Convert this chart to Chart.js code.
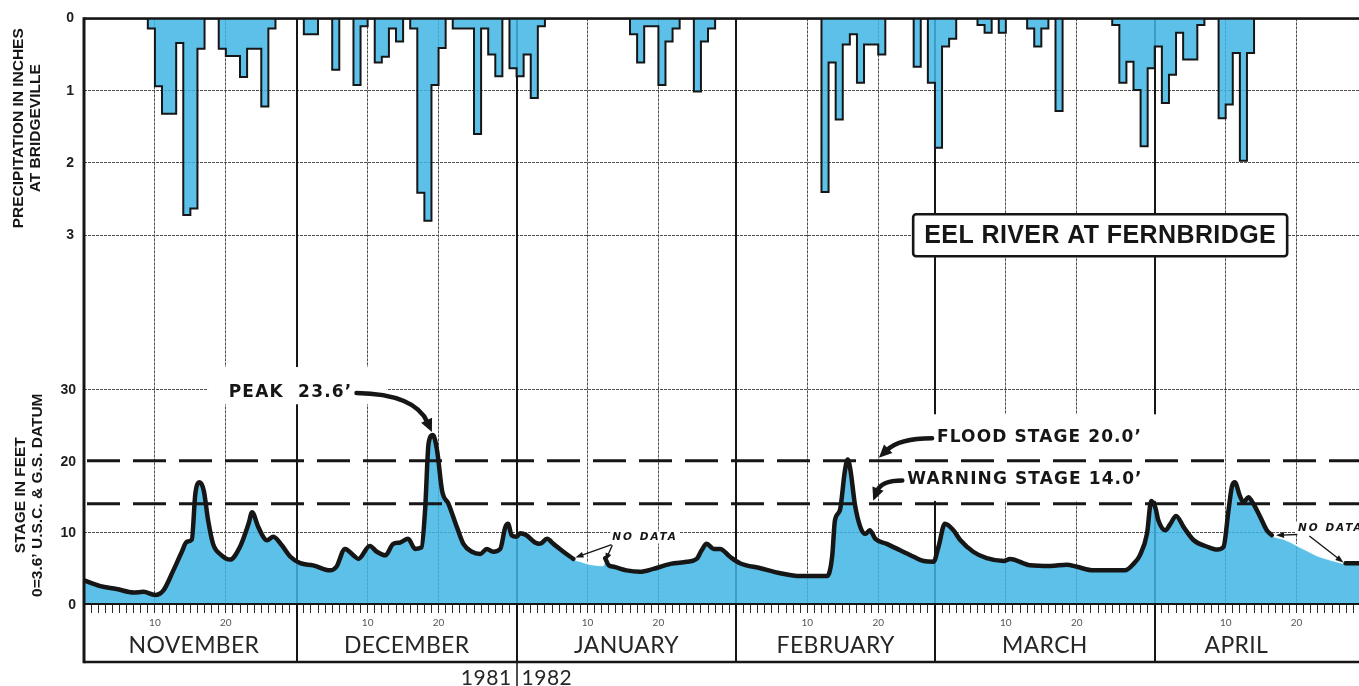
<!DOCTYPE html>
<html lang="en">
<head>
<meta charset="utf-8">
<title>Eel River at Fernbridge, 1981–1982</title>
<script src="https://cdn.jsdelivr.net/npm/chart.js@4.4.1/dist/chart.umd.min.js"></script>
<style>
  html, body { margin: 0; padding: 0; background: #ffffff; overflow: hidden; }
  #frame { width: 1359px; height: 686px; }
  canvas { display: block; }
</style>
</head>
<body>
<div id="frame"><canvas id="hydrograph" width="1359" height="686"></canvas></div>
<script>
// ---- data: days are counted from 1 November 1981 (day 0) ----
const monthNames = ['NOVEMBER', 'DECEMBER', 'JANUARY', 'FEBRUARY', 'MARCH', 'APRIL'];
const monthStartDay = [0, 30, 61, 92, 120, 151];
const monthLabelDay = [15.5, 45.5, 76.5, 106, 135.5, 162.5];
const dayMarks = [10, 20];
const yearLabels = ['1981', '1982'];
const precipTicks = [0, 1, 2, 3];
const stageTicks = [0, 10, 20, 30];
const floodStage = 20.0;
const warningStage = 14.0;

// daily precipitation at Bridgeville (inches)
const rainDay = [9, 10, 11, 12, 13, 14, 15, 16, 19, 20, 21, 22, 23, 24, 25, 26,
  31, 32, 35, 38, 39, 41, 42, 43, 44, 46, 47, 48, 49, 50, 52, 53, 54, 55, 56, 57, 58, 60,
  61, 62, 63, 64, 77, 78, 79, 80, 81, 82, 83, 86, 87, 88,
  104, 105, 106, 107, 108, 109, 110, 111, 112, 117, 119,
  120, 121, 122, 126, 127, 129, 133, 134, 135, 137, 145, 146, 147, 148, 149, 150,
  151, 152, 153, 154, 155, 156, 157, 160, 161, 162, 163, 164];
const rainInches = [0.14, 0.94, 1.32, 1.32, 0.34, 2.72, 2.63, 0.42, 0.42, 0.52, 0.52, 0.81, 0.42, 0.42, 1.22, 0.14,
  0.22, 0.22, 0.71, 0.92, 0.11, 0.61, 0.53, 0.14, 0.32, 0.14, 2.41, 2.80, 0.92, 0.41, 0.14, 0.14, 0.14, 1.60, 0.14, 0.50, 0.80, 0.69,
  0.80, 0.50, 1.10, 0.11, 0.22, 0.61, 0.11, 0.11, 0.92, 0.32, 0.14, 1.01, 0.32, 0.14,
  2.40, 0.61, 1.40, 0.36, 0.22, 0.89, 0.36, 0.36, 0.50, 0.67, 0.89,
  1.79, 0.39, 0.28, 0.09, 0.20, 0.20, 0.14, 0.39, 0.14, 1.28, 0.09, 0.89, 0.60, 0.99, 1.77, 0.69,
  0.39, 1.17, 0.78, 0.20, 0.57, 0.57, 0.09, 1.38, 1.19, 0.48, 1.97, 0.48];

// river stage at Fernbridge (feet)
const stageDay = [0, 2.3, 4.6, 7.0, 8.4, 10.0, 11.2, 12.6, 13.8, 14.5, 15.2, 15.7, 16.3, 16.9, 17.5, 18.2, 19.4, 20.6,
  22.0, 23.2, 23.7, 24.6, 25.8, 26.7, 27.9, 29.1, 30.5, 32.3, 34.7, 35.6, 36.8, 38.0, 38.7, 40.3, 41.3, 42.5,
  43.6, 44.6, 45.7, 46.7, 47.6, 48.1, 48.6, 49.2, 49.8, 50.5, 51.4, 52.6, 53.5, 54.7, 55.9, 56.8, 57.7, 58.7,
  59.4, 59.8, 60.3, 61.0, 61.5, 62.4, 63.6, 64.3, 65.3, 66.2, 67.6, 69.0, 70.0, 71.4, 73.2, 73.5, 74.0, 74.7,
  76.5, 78.4, 80.3, 82.7, 85.0, 86.4, 87.1, 87.8, 88.8, 89.7, 91.1, 92.5, 95.4, 98.2, 101.0, 104.8, 105.5,
  105.9, 106.6, 107.3, 107.7, 108.1, 108.7, 109.5, 110.2, 110.8, 111.6, 113.2, 115.1, 117.0, 118.4, 119.8,
  120.5, 121.4, 122.6, 123.6, 125.4, 127.3, 129.7, 130.6, 133.4, 136.3, 138.6, 140.0, 142.4, 144.3, 146.8,
  148.0, 148.9, 149.9, 150.5, 151.1, 151.5, 152.5, 153.2, 154.0, 155.1, 156.5, 158.4, 159.8, 160.7, 161.4,
  161.9, 162.3, 163.0, 163.5, 164.2, 164.9, 165.9, 166.8, 167.5, 169.2, 171.5, 173.9, 176.2, 177.9, 181];
const stageFeet = [3.3, 2.5, 2.1, 1.6, 1.7, 1.25, 1.9, 4.7, 7.3, 8.7, 9.0, 15.4, 17.0, 15.8, 11.7, 8.4, 6.8, 6.2,
  8.0, 11.2, 12.8, 10.7, 8.9, 9.4, 8.2, 6.6, 5.7, 5.4, 4.7, 5.2, 7.7, 6.8, 6.3, 8.1, 7.3, 6.8,
  8.4, 8.6, 9.1, 7.7, 7.9, 13.1, 22.5, 23.6, 21.4, 15.8, 14.0, 10.7, 8.4, 7.3, 7.0, 7.7, 7.3, 7.7,
  10.7, 11.2, 9.6, 9.4, 9.9, 9.6, 8.6, 8.4, 9.1, 8.4, 7.3, 6.3, 6.0, 5.6, 5.4, 6.4, 5.4, 5.2,
  4.7, 4.5, 4.9, 5.6, 5.9, 6.3, 7.5, 8.4, 7.7, 7.7, 6.6, 5.7, 5.0, 4.3, 3.9, 3.9, 6.6,
  11.7, 13.1, 18.6, 20.2, 18.6, 14.0, 10.7, 9.8, 10.3, 9.1, 8.4, 7.5, 6.6, 6.0, 5.9,
  8.0, 11.2, 10.3, 8.9, 7.3, 6.4, 6.0, 6.3, 5.4, 5.3, 5.5, 5.2, 4.7, 4.7, 4.7,
  5.6, 6.8, 9.8, 14.4, 13.4, 11.7, 10.3, 11.2, 12.3, 10.7, 8.9, 8.0, 7.6, 8.0, 13.1,
  16.5, 17.0, 15.1, 14.2, 14.9, 14.0, 12.1, 10.3, 9.6, 9.1, 8.0, 6.8, 6.1, 5.7, 5.7];
// stretches where the gauge record is missing (stage estimated)
const noDataSpans = [[69.1, 73.4], [167.6, 177.8]];

// ---- axis ranges and styling ----
const DAY_MAX = 179.8;
const PRECIP_MAX = 8.1;
const STAGE_MAX = 81.8;
const BLUE = 'rgba(63,181,228,0.85)';
const INK = '#161616';
const GRID = '#4e4e4e';
const CLEAR = 'rgba(0,0,0,0)';
const SANS = '"Liberation Sans", Arial, sans-serif';
const WIDE = '"DejaVu Sans", Verdana, sans-serif';
const SOFT = 'Lato, "Open Sans", sans-serif';

// ---- series built from the arrays above ----
const rainByDay = new Map(rainDay.map((d, i) => [d, rainInches[i]]));
const rainSeries = [];
for (let d = 0; d <= 181; d++) rainSeries.push({ x: d, y: rainByDay.get(d) || 0 });
const inGap = d => noDataSpans.some(([a, b]) => d > a && d < b);
const stageArea = stageDay.map((d, i) => ({ x: d, y: stageFeet[i] }));
const stageTrace = stageDay.map((d, i) => ({ x: d, y: inGap(d) ? null : stageFeet[i] }));
const peakIndex = stageFeet.indexOf(Math.max(...stageFeet));

const monthOf = d => { let m = 0; monthStartDay.forEach((s, i) => { if (d >= s) m = i; }); return m; };
const dayOffset = d => d - monthStartDay[monthOf(d)];

function seg(ctx, x1, y1, x2, y2) {
  ctx.beginPath(); ctx.moveTo(x1, y1); ctx.lineTo(x2, y2); ctx.stroke();
}
function text(ctx, str, x, y, font, spacing, align, baseline) {
  ctx.font = font;
  ctx.letterSpacing = (spacing || 0) + 'px';
  ctx.textAlign = align || 'left';
  ctx.textBaseline = baseline || 'middle';
  ctx.fillText(str, x, y);
  const w = ctx.measureText(str).width;
  ctx.letterSpacing = '0px';
  return w;
}
function arrowHead(ctx, tx, ty, ang, len, half) {
  ctx.beginPath();
  ctx.moveTo(tx, ty);
  ctx.lineTo(tx - Math.cos(ang) * len + Math.sin(ang) * half, ty - Math.sin(ang) * len - Math.cos(ang) * half);
  ctx.lineTo(tx - Math.cos(ang) * len - Math.sin(ang) * half, ty - Math.sin(ang) * len + Math.cos(ang) * half);
  ctx.closePath();
  ctx.fill();
}
function curvedArrow(ctx, sx, sy, cx, cy, tx, ty, width, len, half) {
  const ang = Math.atan2(ty - cy, tx - cx);
  const ex = tx - Math.cos(ang) * len * 0.8, ey = ty - Math.sin(ang) * len * 0.8;
  ctx.lineWidth = width; ctx.lineCap = 'round';
  ctx.beginPath(); ctx.moveTo(sx, sy); ctx.quadraticCurveTo(cx, cy, ex, ey); ctx.stroke();
  ctx.lineCap = 'butt';
  arrowHead(ctx, tx, ty, ang, len, half);
}
function straightArrow(ctx, sx, sy, tx, ty, width, len, half) {
  const ang = Math.atan2(ty - sy, tx - sx);
  ctx.lineWidth = width;
  seg(ctx, sx, sy, tx - Math.cos(ang) * len * 0.7, ty - Math.sin(ang) * len * 0.7);
  arrowHead(ctx, tx, ty, ang, len, half);
}

const hydroPlugin = {
  id: 'hydroFrame',
  beforeDatasetsDraw(chart) {
    const { ctx, chartArea: a, scales: { x, ys } } = chart;
    const X = v => x.getPixelForValue(v), S = v => ys.getPixelForValue(v);
    ctx.save();
    // month boundaries through both panels
    ctx.strokeStyle = INK; ctx.lineWidth = 2;
    monthStartDay.slice(1).forEach(d => { const px = Math.round(X(d)); seg(ctx, px, a.top, px, a.bottom); });
    // clear panels behind the notes
    ctx.fillStyle = '#ffffff';
    ctx.fillRect(X(17.5), S(33.1), X(42.7) - X(17.5), S(27.9) - S(33.1));
    ctx.fillRect(X(115.1), S(26.5), X(152.2) - X(115.1), S(14.4) - S(26.5));
    ctx.restore();
  },
  afterDatasetsDraw(chart) {
    const { ctx, chartArea: a, scales: { x, ys, yp } } = chart;
    const X = v => x.getPixelForValue(v), S = v => ys.getPixelForValue(v), P = v => yp.getPixelForValue(v);
    const H = chart.height;
    const baseY = a.bottom + 58;
    ctx.save();
    ctx.strokeStyle = INK; ctx.fillStyle = INK;

    // flood and warning stage lines
    ctx.lineWidth = 3; ctx.setLineDash([33, 13]);
    [floodStage, warningStage].forEach(v => seg(ctx, a.left + 3, S(v), a.right, S(v)));
    ctx.setLineDash([]);

    // frame
    ctx.lineWidth = 2.5; seg(ctx, a.left, a.top, a.right, a.top);
    ctx.lineWidth = 2; seg(ctx, a.left, a.bottom, a.right, a.bottom);
    ctx.lineWidth = 2.5; seg(ctx, a.left, baseY, a.right, baseY);
    ctx.lineWidth = 3; seg(ctx, a.left, a.top - 1.2, a.left, baseY + 1.2);
    ctx.lineWidth = 2;
    monthStartDay.slice(1).forEach(d => { const px = Math.round(X(d)); seg(ctx, px, a.bottom, px, baseY); });
    ctx.lineWidth = 1.5;
    const yr = Math.round(X(monthStartDay[2]));
    seg(ctx, yr, baseY, yr, H);

    // peak note
    const peakX = X(stageDay[peakIndex]), peakY = S(stageFeet[peakIndex]);
    const pkText = 'PEAK  ' + stageFeet[peakIndex].toFixed(1) + '\u2019';
    const pkX = X(20.4), pkY = S(29.6);
    const pkW = text(ctx, pkText, pkX, pkY, 'bold 17px ' + WIDE, 1.2);
    curvedArrow(ctx, pkX + pkW + 4, pkY + 1, peakX - 18, pkY + 2, peakX - 1, peakY - 3, 4.5, 13, 6);

    // flood / warning notes
    const flX = X(120.3), flY = S(23.3);
    text(ctx, 'FLOOD STAGE ' + floodStage.toFixed(1) + '\u2019', flX, flY, 'bold 17px ' + WIDE, 1.1);
    const flTipX = X(112.1), flTipY = S(floodStage) - 3;
    curvedArrow(ctx, flX - 5, flY + 1, flTipX + 20, flY + 1, flTipX, flTipY, 4.5, 13, 6);
    const wnX = X(116.1), wnY = S(17.4);
    text(ctx, 'WARNING STAGE ' + warningStage.toFixed(1) + '\u2019', wnX, wnY, 'bold 17px ' + WIDE, 1.1);
    const wnTipX = X(111.3), wnTipY = S(warningStage) - 3;
    curvedArrow(ctx, wnX - 5, wnY + 1, wnTipX + 8, wnY + 1, wnTipX, wnTipY, 4.5, 13, 6);

    // missing-record notes
    const gapNote = (dx, fy) => {
      ctx.font = 'italic bold 10.5px ' + WIDE;
      ctx.letterSpacing = '2px';
      const w = ctx.measureText('NO DATA').width;
      ctx.letterSpacing = '0px';
      ctx.fillStyle = '#ffffff';
      ctx.fillRect(X(dx) - 2, S(fy) - 6, w + 4, 12);
      ctx.fillStyle = INK;
      text(ctx, 'NO DATA', X(dx), S(fy), 'italic bold 10.5px ' + WIDE, 2);
    };
    gapNote(74.5, 9.3);
    straightArrow(ctx, X(74.4), S(8.3), X(69.3), S(6.5), 1.4, 8, 3);
    straightArrow(ctx, X(74.5), S(8.2), X(73.5), S(6.0), 1.4, 8, 3);
    gapNote(171.2, 10.6);
    straightArrow(ctx, X(171.1), S(9.7), X(168.1), S(9.6), 1.4, 8, 3);
    straightArrow(ctx, X(172.8), S(9.5), X(177.6), S(5.8), 1.4, 8, 3);

    // title box
    const tcx = X(143.3), tcy = P(3.0), bw = 374, bh = 42;
    ctx.fillStyle = '#ffffff';
    ctx.beginPath(); ctx.roundRect(tcx - bw / 2, tcy - bh / 2, bw, bh, 3); ctx.fill();
    ctx.lineWidth = 2.6; ctx.strokeStyle = INK; ctx.stroke();
    ctx.fillStyle = INK;
    text(ctx, 'EEL RIVER AT FERNBRIDGE', tcx, tcy + 1, 'bold 25px ' + SANS, 0.4, 'center');
    ctx.restore();
  },
  afterDraw(chart) {
    const { ctx, chartArea: a, scales: { x, ys, yp } } = chart;
    const X = v => x.getPixelForValue(v), S = v => ys.getPixelForValue(v), P = v => yp.getPixelForValue(v);
    ctx.save();
    ctx.fillStyle = '#1c1c1c';
    // stage tick labels
    stageTicks.forEach(v => text(ctx, String(v), a.left - 8, S(v) + 1, 'bold 14px ' + SANS, 0, 'right'));
    ctx.fillStyle = INK;
    // vertical axis titles
    const vtitle = (lines, cx, cy, gap) => {
      ctx.save(); ctx.translate(cx, cy); ctx.rotate(-Math.PI / 2);
      lines.forEach((t, i) => text(ctx, t, 0, (i - (lines.length - 1) / 2) * gap, 'bold 15.5px ' + SANS, 0, 'center'));
      ctx.restore();
    };
    vtitle(['PRECIPITATION IN INCHES', 'AT BRIDGEVILLE'], 27.5, P(1.52), 17.4);
    vtitle(['STAGE IN FEET', '0=3.6\u2019 U.S.C. & G.S. DATUM'], 29, S(15.2), 17.4);
    // month names and years
    ctx.fillStyle = '#262626';
    monthNames.forEach((m, i) => text(ctx, m, X(monthLabelDay[i]), a.bottom + 42, '23px ' + SOFT, 0.3, 'center'));
    const yr = X(monthStartDay[2]);
    text(ctx, yearLabels[0], yr - 5, a.bottom + 74, '21px ' + SOFT, 0.5, 'right');
    text(ctx, yearLabels[1], yr + 5, a.bottom + 74, '21px ' + SOFT, 0.5, 'left');
    ctx.restore();
  }
};

const tickFont = { family: SANS, size: 14, weight: 'bold' };

new Chart(document.getElementById('hydrograph'), {
  type: 'line',
  data: {
    datasets: [
      { label: 'Stage', data: stageTrace, yAxisID: 'ys', order: 0,
        borderColor: INK, borderWidth: 4.5, borderJoinStyle: 'round', borderCapStyle: 'round',
        fill: false, spanGaps: false, cubicInterpolationMode: 'monotone', pointRadius: 0 },
      { label: 'Precipitation', data: rainSeries, yAxisID: 'yp', order: 1,
        stepped: true, borderColor: INK, borderWidth: 2, backgroundColor: BLUE,
        fill: 'origin', pointRadius: 0 },
      { label: 'Stage area', data: stageArea, yAxisID: 'ys', order: 2,
        borderColor: 'rgba(255,255,255,0.9)', borderWidth: 2, backgroundColor: BLUE,
        fill: 'origin', cubicInterpolationMode: 'monotone', pointRadius: 0 }
    ]
  },
  options: {
    responsive: false,
    animation: false,
    devicePixelRatio: 1,
    layout: { padding: { top: 15, left: 0, right: 0, bottom: 0 } },
    plugins: { legend: { display: false }, tooltip: { enabled: false } },
    scales: {
      x: {
        type: 'linear', position: 'bottom', min: 0, max: DAY_MAX, offset: false,
        afterBuildTicks: s => { const t = []; for (let d = 0; d <= Math.floor(DAY_MAX); d++) t.push({ value: d }); s.ticks = t; },
        afterFit: s => { s.height = 82; },
        ticks: {
          autoSkip: false, maxRotation: 0, minRotation: 0, padding: 4,
          font: { family: SOFT, size: 10 }, color: '#555555',
          callback: v => dayMarks.includes(dayOffset(v)) ? String(dayOffset(v)) : ''
        },
        grid: {
          color: c => (c.tick && dayMarks.includes(dayOffset(c.tick.value))) ? GRID : CLEAR,
          lineWidth: 1, drawTicks: true, tickLength: 9, tickColor: '#2a2a2a', tickWidth: 1
        },
        border: { display: false, dash: [3, 1] }
      },
      yp: {
        type: 'linear', position: 'left', weight: 1, reverse: true, min: 0, max: PRECIP_MAX,
        afterBuildTicks: s => { s.ticks = precipTicks.map(v => ({ value: v })); },
        afterFit: s => { s.width = 84; },
        ticks: { padding: 10, font: tickFont, color: '#1c1c1c' },
        grid: { drawTicks: false, color: c => (c.tick && c.tick.value > 0) ? GRID : CLEAR, lineWidth: 1 },
        border: { display: false, dash: [3, 1] }
      },
      ys: {
        type: 'linear', position: 'left', weight: 0, min: 0, max: STAGE_MAX,
        afterBuildTicks: s => { s.ticks = stageTicks.map(v => ({ value: v })); },
        afterFit: s => { s.width = 0; },
        ticks: { display: false },
        grid: { drawTicks: false, color: c => (c.tick && (c.tick.value === 10 || c.tick.value === 30)) ? GRID : CLEAR, lineWidth: 1 },
        border: { display: false, dash: [3, 1] }
      }
    }
  },
  plugins: [hydroPlugin]
});
</script>
</body>
</html>
